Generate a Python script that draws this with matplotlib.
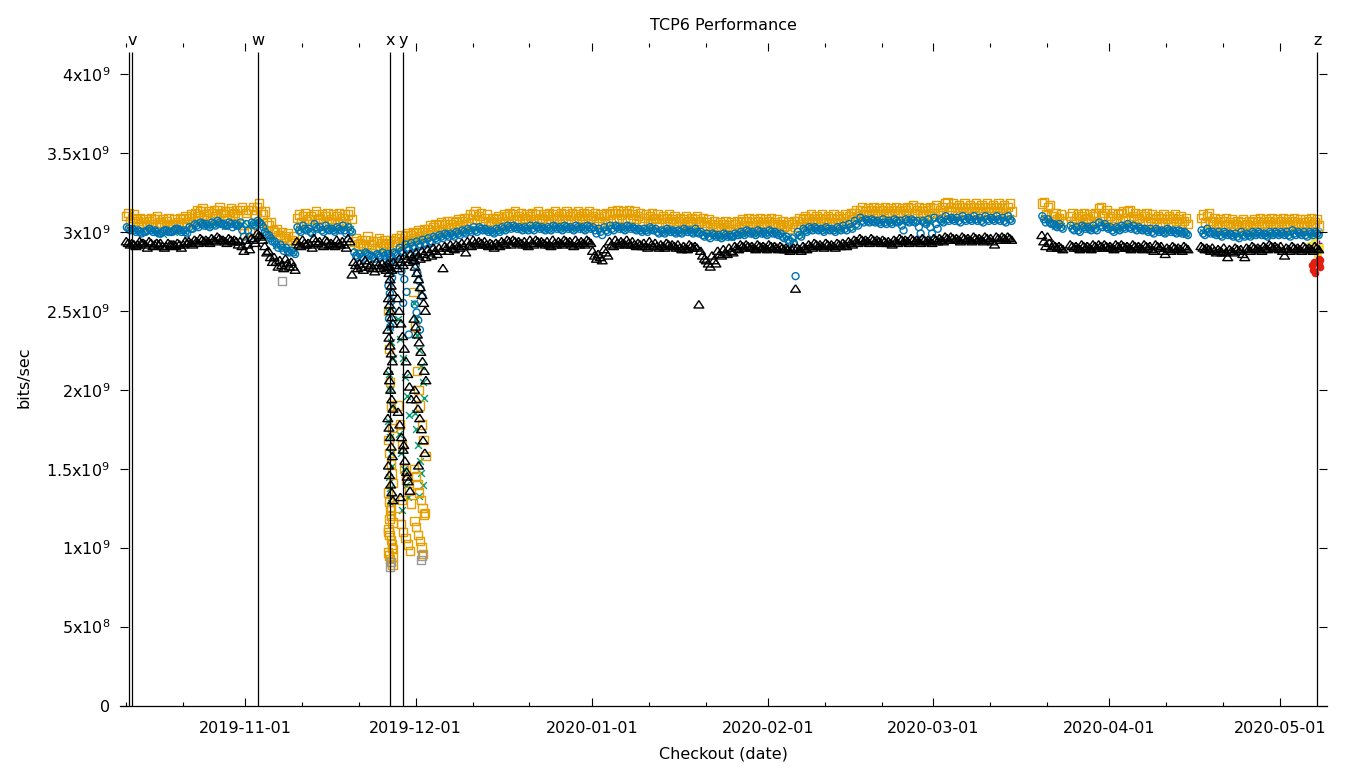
import numpy as np
import matplotlib
matplotlib.use("Agg")
import matplotlib.pyplot as plt
import matplotlib.dates as mdates
from matplotlib.transforms import blended_transform_factory

# daily runs, values in 1e7 bits/sec, first entry = 2019-10-11, None = no run
first_day = "2019-10-11"

orange_a = [
    310, 309, 307, 306, 307, 308, 306, 307, 305, 306, 308, 309, 312, 313, 311, 312, 314, 311, 313, 312, 314,  # oct
    312, 314, 316, 311, 304, 300, 298, 297, 295, 309, 310, 308, 311, 309, 310, 308, 310, 309, 311,
    294, 293, 295, 292, 294, 293, 293, 294, 296, 297, 298,  # nov
    299, 300, 302, 303, 304, 305, 305, 306, 307, 309, 311, 310, 309, 307, 308, 309, 310, 311, 310, 309,
    310, 311, 309, 310, 311, 310, 311, 310, 311, 310, 311,  # dec
    310, 309, 310, 311, 312, 311, 312, 311, 310, 309, 310, 309, 308, 309, 308, 307, 308, 307, 308, 307,
    306, 305, 304, 305, 304, 305, 306, 307, 306, 307, 306,  # jan
    307, 306, 305, 304, 305, 307, 308, 309, 308, 309, 308, 309, 308, 309, 310, 312, 314, 313, 314, 313,
    314, 313, 314, 313, 314, 315, 314, 313, 314,  # feb
    315, 314, 318, 316, 315, 316, 315, 316, 315, 316, 315, 316, 315, 316, None, None, None, None, None,
    318, 316, 310, 309, None, 310, 309, 310, 309, 310, 315, 312,  # mar
    310, 309, 312, 313, 310, 309, 310, 309, 308, 309, 308, 309, 308, 307, None, None,
    309, 310, 307, 306, 307, 306, 305, 306, 305, 306, 307, 306, 307, 306,  # apr
    307, 306, 307, 306, 306, 307, 306,  # may
]
orange_b = [
    306, 308, 305, 304, 305, 306, 304, 305, 304, 305, 306, 307, 310, 311, 309, 310, 312, 309, 311, 310, 299,
    300, 311, 313, 306, 301, 298, 296, 295, 293, 306, 307, 305, 308, 306, 307, 306, 307, 305, 308,
    292, 291, 292, 290, 291, 292, 291, 292, 294, 295, 296,
    297, 298, 300, 301, 302, 303, 303, 304, 305, 306, 308, 307, 306, 305, 306, 307, 307, 308, 308, 307,
    308, 308, 307, 308, 309, 308, 308, 307, 309, 308, 309,
    307, 306, 307, 308, 309, 308, 309, 308, 307, 307, 308, 306, 306, 307, 306, 305, 306, 305, 306, 304,
    303, 303, 302, 303, 302, 303, 304, 304, 304, 305, 304,
    305, 304, 303, 302, 303, 305, 306, 307, 306, 307, 306, 306, 306, 307, 308, 310, 311, 311, 312, 311,
    312, 311, 312, 311, 312, 312, 311, 311, 312,
    312, 312, 313, 313, 312, 313, 313, 313, 312, 313, 313, 313, 312, 313, None, None, None, None, None,
    311, 310, 308, 307, None, 307, 307, 308, 307, 307, 310, 309,
    307, 307, 309, 309, 308, 307, 307, 306, 306, 306, 306, 307, 306, 305, None, None,
    306, 306, 305, 304, 305, 304, 303, 304, 303, 304, 305, 304, 305, 304,
    305, 304, 305, 304, 304, 305, 304,
]
orange_c = [
    312, 311, 309, 308, 309, 310, 308, 309, 308, 309, 310, 311, 314, 315, 313, 314, 316, 313, 315, 314, 316,
    314, 316, 318, 313, 306, 302, 300, 299, 297, 311, 312, 310, 313, 311, 312, 311, 312, 311, 313,
    296, 295, 297, 294, 296, 295, 295, 296, 298, 299, 300,
    301, 302, 304, 305, 306, 307, 307, 308, 309, 311, 313, 312, 311, 309, 310, 311, 312, 313, 312, 311,
    312, 313, 311, 312, 313, 312, 313, 312, 313, 312, 313,
    312, 311, 312, 313, 314, 313, 314, 313, 312, 311, 312, 311, 310, 311, 310, 309, 310, 309, 310, 309,
    308, 307, 306, 307, 306, 307, 308, 309, 308, 309, 308,
    309, 308, 307, 306, 307, 309, 310, 311, 310, 311, 310, 311, 310, 311, 312, 314, 316, 315, 316, 315,
    316, 315, 316, 315, 316, 317, 316, 315, 316,
    317, 316, 319, 318, 317, 318, 317, 318, 317, 318, 317, 318, 317, 318, None, None, None, None, None,
    319, 317, 312, 311, None, 312, 311, 312, 311, 312, 316, 314,
    312, 311, 313, 314, 312, 311, 312, 311, 310, 311, 310, 311, 310, 309, None, None,
    311, 312, 309, 308, 309, 308, 307, 308, 307, 308, 309, 308, 309, 308,
    309, 308, 309, 308, 308, 309, 308,
]
blue_a = [
    303, 302, 301, 300, 302, 301, 299, 301, 300, 302, 301, 303, 305, 306, 305, 306, 307, 305, 306, 305, 306,
    305, 306, 307, 303, 298, 294, 292, 290, 288, 303, 304, 302, 305, 303, 304, 302, 303, 304, 303,
    287, 286, 287, 285, 286, 287, 286, 287, 290, 292, 293,
    294, 295, 296, 297, 298, 299, 299, 300, 301, 302, 303, 303, 302, 301, 302, 303, 304, 304, 303, 303,
    304, 304, 303, 303, 304, 303, 304, 303, 304, 303, 304,
    303, 302, 303, 304, 304, 303, 304, 303, 302, 302, 303, 302, 301, 302, 301, 301, 302, 301, 302, 300,
    299, 299, 298, 299, 298, 299, 300, 301, 300, 301, 300,
    301, 300, 299, 297, 296, 300, 302, 303, 303, 302, 303, 302, 303, 304, 305, 307, 309, 308, 308, 307,
    308, 307, 308, 307, 308, 308, 307, 307, 308,
    309, 308, 310, 309, 309, 310, 309, 310, 309, 310, 309, 310, 309, 310, None, None, None, None, None,
    310, 308, 305, 305, None, 304, 303, 304, 303, 304, 306, 305,
    303, 303, 304, 305, 304, 303, 302, 302, 302, 301, 302, 301, 301, 300, None, None,
    301, 302, 300, 300, 300, 299, 299, 300, 299, 300, 300, 299, 300, 300,
    300, 300, 301, 300, 300, 300, 300,
]
blue_b = [
    301, 300, 299, 301, 300, 299, 301, 300, 302, 300, 299, 302, 303, 304, 303, 304, 305, 304, 303, 304, 297,
    297, 304, 305, 298, 294, 290, 288, 287, 286, 300, 301, 299, 302, 300, 301, 300, 301, 299, 300,
    284, 283, 285, 283, 284, 283, 284, 285, 287, 289, 290,
    291, 292, 293, 295, 296, 297, 297, 298, 299, 300, 300, 301, 300, 299, 300, 301, 302, 302, 301, 301,
    301, 302, 301, 301, 302, 301, 302, 301, 302, 301, 302,
    299, 298, 300, 301, 302, 301, 302, 301, 300, 300, 301, 299, 299, 300, 299, 299, 300, 299, 299, 297,
    296, 297, 296, 297, 297, 298, 298, 299, 298, 299, 298,
    299, 298, 296, 294, 272, 297, 300, 301, 301, 300, 301, 300, 301, 301, 302, 304, 306, 306, 306, 305,
    305, 305, 306, 301, 306, 306, 299, 305, 299,
    302, 306, 307, 307, 306, 307, 307, 307, 306, 307, 307, 307, 306, 307, None, None, None, None, None,
    306, 305, 303, 302, None, 301, 300, 302, 301, 301, 303, 302,
    300, 301, 302, 302, 301, 301, 300, 299, 300, 299, 300, 299, 299, 298, None, None,
    298, 299, 298, 297, 298, 297, 296, 297, 297, 298, 298, 297, 298, 298,
    298, 297, 298, 298, 297, 298, 298,
]
blue_c = [
    302, 301, 300, 300, 301, 300, 300, 300, 301, 301, 300, 302, 304, 305, 304, 305, 306, 304, 305, 304, 301,
    301, 305, 306, 300, 296, 292, 290, 288, 287, 301, 302, 300, 303, 301, 302, 301, 302, 301, 301,
    285, 284, 286, 284, 285, 285, 285, 286, 288, 290, 291,
    292, 293, 294, 296, 297, 298, 298, 299, 300, 301, 301, 302, 301, 300, 301, 302, 303, 303, 302, 302,
    302, 303, 302, 302, 303, 302, 303, 302, 303, 302, 303,
    301, 300, 301, 302, 303, 302, 303, 302, 301, 301, 302, 300, 300, 301, 300, 300, 301, 300, 300, 298,
    297, 298, 297, 298, 297, 298, 299, 300, 299, 300, 299,
    300, 299, 297, 295, 293, 298, 301, 302, 302, 301, 302, 301, 302, 302, 303, 305, 307, 307, 307, 306,
    306, 306, 307, 304, 307, 307, 303, 306, 303,
    305, 307, 308, 308, 307, 308, 308, 308, 307, 308, 308, 308, 307, 308, None, None, None, None, None,
    308, 306, 304, 303, None, 302, 301, 303, 302, 302, 304, 303,
    301, 302, 303, 303, 302, 302, 301, 300, 301, 300, 301, 300, 300, 299, None, None,
    299, 300, 299, 298, 299, 298, 297, 298, 298, 299, 299, 298, 299, 299,
    299, 298, 299, 299, 298, 299, 299,
]
black_a = [
    294, 293, 292, 293, 294, 292, 293, 291, 292, 293, 292, 294, 295, 296, 295, 296, 297, 295, 296, 295, 294,
    295, 296, 299, 295, 288, 284, 282, 283, 281, 294, 295, 293, 296, 294, 295, 293, 295, 294, 296,
    281, 280, 282, 279, 281, 280, 280, 281, 283, 285, 286,
    287, 288, 289, 290, 290, 291, 292, 292, 293, 294, 295, 294, 294, 293, 293, 294, 295, 295, 294, 294,
    295, 295, 294, 294, 295, 294, 295, 294, 295, 294, 295,
    288, 286, 289, 294, 295, 294, 295, 294, 293, 293, 294, 293, 292, 293, 292, 292, 291, 292, 291, 288,
    282, 285, 288, 289, 290, 291, 292, 292, 291, 292, 291,
    292, 291, 291, 290, 289, 290, 291, 292, 293, 292, 293, 292, 293, 293, 294, 295, 296, 295, 296, 295,
    295, 294, 295, 296, 295, 296, 295, 296, 295,
    296, 296, 297, 297, 296, 297, 296, 297, 296, 297, 296, 297, 297, 297, None, None, None, None, None,
    298, 297, 292, 291, None, 292, 291, 292, 291, 292, 292, 292,
    291, 292, 292, 291, 292, 291, 292, 291, 292, 291, 290, 291, 290, 291, None, None,
    291, 290, 290, 289, 290, 289, 290, 289, 290, 291, 290, 291, 292, 291,
    291, 290, 291, 290, 291, 290, 291,
]
black_b = [
    292, 291, 293, 290, 291, 292, 290, 292, 291, 290, 293, 292, 293, 294, 293, 294, 295, 293, 294, 292, 288,
    289, 293, 297, 287, 281, 278, 277, 278, 276, 291, 292, 290, 293, 291, 292, 291, 292, 290, 273,
    277, 276, 278, 275, 277, 276, 276, 277, 279, 281, 282,
    283, 284, 285, 286, 277, 288, 289, 290, 287, 291, 292, 292, 291, 290, 291, 292, 292, 293, 292, 291,
    292, 293, 292, 291, 292, 292, 293, 291, 292, 292, 293,
    283, 282, 285, 291, 292, 292, 292, 291, 291, 290, 291, 290, 290, 291, 290, 289, 289, 290, 254, 283,
    278, 280, 285, 286, 287, 289, 290, 290, 289, 290, 289,
    290, 289, 289, 288, 264, 288, 289, 290, 291, 290, 291, 290, 291, 291, 292, 293, 294, 293, 294, 293,
    293, 292, 293, 294, 293, 294, 293, 294, 293,
    294, 294, 295, 295, 294, 295, 294, 295, 294, 295, 292, 295, 295, 295, None, None, None, None, None,
    291, 290, 290, 289, None, 290, 289, 290, 289, 290, 290, 290,
    289, 290, 290, 289, 290, 289, 290, 288, 290, 286, 288, 289, 288, 289, None, None,
    289, 288, 287, 287, 284, 287, 288, 284, 288, 289, 288, 289, 290, 289,
    285, 288, 289, 288, 289, 288, 289,
]
black_c = [
    293, 292, 294, 292, 293, 293, 291, 293, 292, 292, 294, 293, 294, 295, 294, 295, 296, 294, 295, 294, 291,
    292, 295, 298, 291, 284, 281, 279, 280, 278, 292, 293, 292, 294, 292, 294, 292, 293, 292, 294,
    279, 278, 280, 277, 279, 278, 278, 279, 281, 283, 284,
    285, 286, 287, 288, 288, 290, 290, 291, 291, 292, 293, 293, 292, 292, 292, 293, 294, 294, 293, 292,
    293, 294, 293, 292, 293, 293, 294, 292, 293, 293, 294,
    285, 284, 287, 292, 293, 293, 293, 292, 292, 291, 292, 291, 291, 292, 291, 290, 290, 291, 290, 285,
    280, 282, 286, 287, 288, 290, 291, 291, 290, 291, 290,
    291, 290, 290, 289, 290, 289, 290, 291, 292, 291, 292, 291, 292, 292, 293, 294, 295, 294, 295, 294,
    294, 293, 294, 295, 294, 295, 294, 295, 294,
    295, 295, 296, 296, 295, 296, 295, 296, 295, 296, 294, 296, 296, 296, None, None, None, None, None,
    294, 293, 291, 290, None, 291, 290, 291, 290, 291, 291, 291,
    290, 291, 291, 290, 291, 290, 291, 289, 291, 288, 289, 290, 289, 290, None, None,
    290, 289, 288, 288, 287, 288, 289, 286, 289, 290, 289, 290, 291, 290,
    288, 289, 290, 289, 290, 289, 290,
]
green_a = [
    302, 301, 300, 302, 301, 300, 299, 301, 300, 301, 300, 304, 305, 306, 304, 305, 306, 304, 305, 304, 305,
    304, 305, 306, 301, 296, 292, 290, 289, 287, 302, 303, 301, 304, 302, 303, 301, 302, 303, 302,
    288, 287, 288, 286, 287, 288, 287, 288, 290, 292, 293,
    294, 295, 296, 297, 298, 299, 299, 300, 300, 301, 302, 302, 301, 300, 301, 302, 303, 303, 302, 302,
    303, 303, 302, 302, 303, 302, 303, 302, 303, 302, 303,
    302, 301, 302, 303, 303, 302, 303, 302, 301, 301, 302, 301, 300, 301, 300, 300, 301, 300, 301, 299,
    298, 298, 297, 298, 297, 298, 299, 300, 299, 300, 299,
    300, 299, 298, 296, 295, 299, 301, 302, 302, 301, 302, 301, 302, 303, 304, 306, 308, 307, 307, 306,
    307, 306, 307, 306, 307, 307, 306, 306, 307,
    308, 307, 309, 308, 308, 309, 308, 309, 308, 309, 308, 309, 308, 309, None, None, None, None, None,
    309, 307, 304, 304, None, 303, 302, 303, 302, 303, 305, 304,
    302, 302, 303, 304, 303, 302, 301, 301, 301, 300, 301, 300, 300, 299, None, None,
    300, 301, 299, 299, 299, 298, 298, 299, 298, 299, 299, 298, 299, 299,
    299, 299, 300, 299, 299, 299, 299,
]

# the late-november collapse: day offset from first_day, value (1e7 bits/sec)
dip_orange_t = [46.1, 46.3, 46.5, 46.7, 46.9, 46.2, 46.4, 46.6, 46.8, 47.0,
                46.1, 46.3, 46.5, 46.7, 46.9, 46.2, 46.4, 46.6, 46.8, 47.0,
                46.1, 46.3, 46.5, 46.7, 46.9, 46.2, 46.4, 46.6, 46.8, 47.0,
                47.8, 48.2, 48.6, 49.0, 49.4, 49.8, 50.2, 48.0, 48.4, 48.8, 49.2, 49.6, 50.0, 48.6,
                50.6, 50.9, 51.2, 51.5, 51.8, 52.1, 52.4, 52.7, 50.7, 51.0, 51.3,
                51.6, 51.9, 52.2, 52.5, 50.8, 51.1, 51.4, 51.7, 52.0, 52.3, 52.6]
dip_orange_v = [250, 226, 205, 190, 176, 168, 160, 153, 147, 141,
                135, 129, 124, 120, 116, 112, 108, 105, 102, 99,
                97, 95, 93, 91, 89, 110, 118, 126, 100, 94,
                190, 178, 165, 150, 143, 136, 128, 120, 115, 110, 106, 102, 98, 130,
                262, 240, 212, 200, 190, 178, 168, 158, 150, 145, 140,
                135, 130, 125, 121, 117, 113, 108, 104, 100, 96, 122]
dip_black_t = [46.1, 46.3, 46.5, 46.7, 46.9, 46.2, 46.4, 46.6, 46.8, 47.0,
               46.1, 46.3, 46.5, 46.7, 46.9, 46.2, 46.4, 46.6, 46.8, 47.0,
               46.1, 46.3, 46.5, 46.7, 46.9, 46.2, 46.4, 46.6, 46.8, 47.0,
               47.8, 48.1, 48.4, 48.7, 49.0, 49.3, 49.6, 49.9, 50.2, 47.9,
               48.2, 48.5, 48.8, 49.1, 49.4, 49.7, 50.0, 48.3, 48.9, 49.5,
               50.6, 50.9, 51.2, 51.5, 51.8, 52.1, 52.4, 52.7, 50.7, 51.0, 51.3, 51.6,
               51.9, 52.2, 52.5, 52.8, 50.8, 51.1, 51.4, 51.7, 52.0, 52.3, 52.6, 51.5]
dip_black_v = [278, 274, 270, 266, 262, 258, 254, 250, 246, 242,
               238, 233, 228, 223, 218, 212, 206, 200, 194, 188,
               182, 176, 170, 164, 158, 152, 146, 140, 135, 130,
               258, 250, 242, 234, 226, 218, 210, 202, 194, 186,
               178, 170, 162, 155, 148, 142, 136, 132, 165, 145,
               282, 278, 274, 270, 265, 260, 255, 250, 245, 240, 235, 230,
               224, 218, 212, 206, 200, 194, 188, 182, 175, 168, 160, 152]
dip_green_t = [46.2, 46.45, 46.7, 46.95, 46.3, 46.55, 46.8, 46.15, 46.4, 46.65, 46.9, 46.25, 46.5, 46.75, 46.6,
               47.9, 48.3, 48.7, 49.1, 49.5, 49.9, 48.1, 48.5, 48.9, 49.3, 49.7, 48.6,
               50.7, 51.0, 51.3, 51.6, 51.9, 52.2, 52.5, 50.8, 51.1, 51.4, 51.7, 52.0, 52.3, 51.5]
dip_green_v = [250, 240, 230, 220, 210, 200, 190, 180, 170, 160, 152, 145, 138, 132, 128,
               245, 232, 220, 208, 196, 184, 172, 160, 150, 140, 132, 124,
               255, 245, 235, 225, 215, 205, 195, 185, 175, 165, 155, 147, 140, 133]
dip_blue_t = [46.1, 46.35, 46.6, 46.85, 46.2, 46.45, 46.7, 46.95, 46.3, 46.55,
              48.0, 48.5, 49.0, 49.4, 48.8, 49.8,
              50.7, 51.0, 51.3, 51.6, 51.9, 52.2, 50.85, 51.15, 51.45, 51.75]
dip_blue_v = [286, 281, 276, 271, 266, 261, 256, 250, 245, 240,
              280, 275, 270, 262, 255, 235,
              284, 279, 274, 269, 264, 259, 254, 249, 244, 238]

gray_t = [27.5, 46.5, 46.7, 51.9, 52.1]
gray_v = [269, 88, 91, 92, 95]

# last checkouts (may 7)
red_t = [208.6, 208.8, 209.0, 209.1, 209.8, 209.9, 210.0, 210.1]
red_v = [279, 276, 281, 274, 283, 280, 282, 278]
yellow_t = [208.4, 208.8, 209.2, 209.6, 210.0]
yellow_v = [291, 288, 294, 286, 290]
lightblue_t = [208.2, 208.7, 209.3, 209.9]
lightblue_v = [302, 299, 303, 300]
purple_t = [209.9]
purple_v = [293]

markers = ["2019-10-11 15:00", "2019-10-12 03:40", "2019-11-03 07:30",
           "2019-11-26 12:40", "2019-11-28 18:00", "2020-05-07 13:30"]
marker_names = ["", "v", "w", "x", "y", "z"]

ytick_vals = [0, 0.5e9, 1e9, 1.5e9, 2e9, 2.5e9, 3e9, 3.5e9, 4e9]
ytick_labels = ["0", "5x10$^{8}$", "1x10$^{9}$", "1.5x10$^{9}$", "2x10$^{9}$",
                "2.5x10$^{9}$", "3x10$^{9}$", "3.5x10$^{9}$", "4x10$^{9}$"]

t0 = mdates.datestr2num(first_day)


def daily(vals, frac):
    x = [t0 + i + frac for i, v in enumerate(vals) if v is not None]
    y = [v * 1e7 for v in vals if v is not None]
    return x, y


def points(ts, vs):
    return [t0 + t for t in ts], [v * 1e7 for v in vs]


plt.rcParams["font.family"] = ["DejaVu Sans"]
plt.rcParams["font.size"] = 11.5

fig = plt.figure(figsize=(13.6, 7.68), dpi=100)
ax = fig.add_axes([120 / 1360, 62.5 / 768, 1207 / 1360, 663 / 768])

tri = [(0, 0.8), (-1, -0.7), (1, -0.7), (0, 0.8)]
lw = 1.0
sq, ci, cr, tr = 36, 25, 24, 50   # marker areas

x, y = points(purple_t, purple_v)
ax.scatter(x, y, s=cr, marker="+", c="#9400D3", linewidths=lw)
x, y = daily(green_a, 0.5)
ax.scatter(x, y, s=cr, marker="x", c="#009E73", linewidths=lw)
x, y = points(dip_green_t, dip_green_v)
ax.scatter(x, y, s=cr, marker="x", c="#009E73", linewidths=lw)
x, y = points(lightblue_t, lightblue_v)
ax.scatter(x, y, s=ci, marker="o", facecolors="none", edgecolors="#56B4E9", linewidths=lw)

for vals, frac in [(orange_c, 0.5), (orange_a, 0.15), (orange_b, 0.8)]:
    x, y = daily(vals, frac)
    ax.scatter(x, y, s=sq, marker="s", facecolors="none", edgecolors="#E69F00", linewidths=lw)
x, y = points(dip_orange_t, dip_orange_v)
ax.scatter(x, y, s=sq, marker="s", facecolors="none", edgecolors="#E69F00", linewidths=lw)
x, y = points(gray_t, gray_v)
ax.scatter(x, y, s=sq, marker="s", facecolors="none", edgecolors="#999999", linewidths=lw)

x, y = points(yellow_t, yellow_v)
ax.scatter(x, y, s=30, marker="s", c="#F0E442", linewidths=0)

for vals, frac in [(blue_a, 0.2), (blue_c, 0.5), (blue_b, 0.8)]:
    x, y = daily(vals, frac)
    ax.scatter(x, y, s=ci, marker="o", facecolors="none", edgecolors="#0072B2", linewidths=lw)
x, y = points(dip_blue_t, dip_blue_v)
ax.scatter(x, y, s=ci, marker="o", facecolors="none", edgecolors="#0072B2", linewidths=lw)

x, y = points(red_t, red_v)
ax.scatter(x, y, s=30, marker="o", c="#E51E10", linewidths=0)

for vals, frac in [(black_a, 0.1), (black_c, 0.45), (black_b, 0.8)]:
    x, y = daily(vals, frac)
    ax.scatter(x, y, s=tr, marker=tri, facecolors="none", edgecolors="black", linewidths=lw)
x, y = points(dip_black_t, dip_black_v)
ax.scatter(x, y, s=tr, marker=tri, facecolors="none", edgecolors="black", linewidths=lw)

# checkout marker lines
trans = blended_transform_factory(ax.transData, ax.transAxes)
for d, name in zip(markers, marker_names):
    xd = mdates.datestr2num(d)
    ax.vlines(xd, 0, 4.14e9, color="black", linewidth=0.9)
    if name:
        ax.text(xd, 0.9955, name, transform=trans, ha="center", va="baseline")

ax.set_xlim(mdates.datestr2num("2019-10-10 00:00"), mdates.datestr2num("2020-05-09 06:15"))
ax.set_ylim(0, 4.2e9)
ax.xaxis.set_major_locator(mdates.MonthLocator())
ax.xaxis.set_minor_locator(mdates.DayLocator(bymonthday=[11, 21]))
ax.xaxis.set_major_formatter(mdates.DateFormatter("%Y-%m-%d"))
ax.set_yticks(ytick_vals)
ax.set_yticklabels(ytick_labels)

for side in ["left", "right", "top"]:
    ax.spines[side].set_visible(False)
ax.spines["bottom"].set_linewidth(0.9)
ax.tick_params(which="both", direction="in", top=True, right=True, width=0.8)
ax.tick_params(which="major", length=5.8)
ax.tick_params(which="minor", length=3)
ax.tick_params(axis="y", pad=7)
ax.tick_params(axis="x", pad=11)

fig.text(723.5 / 1360, 1 - 30 / 768, "TCP6 Performance", ha="center", va="baseline")
fig.text(723.5 / 1360, 1 - 754 / 768, "Checkout (date)", ha="center", va="center")
fig.text(24 / 1360, 1 - 377 / 768, "bits/sec", ha="center", va="center", rotation=90)

fig.savefig("out.png", dpi=100)
